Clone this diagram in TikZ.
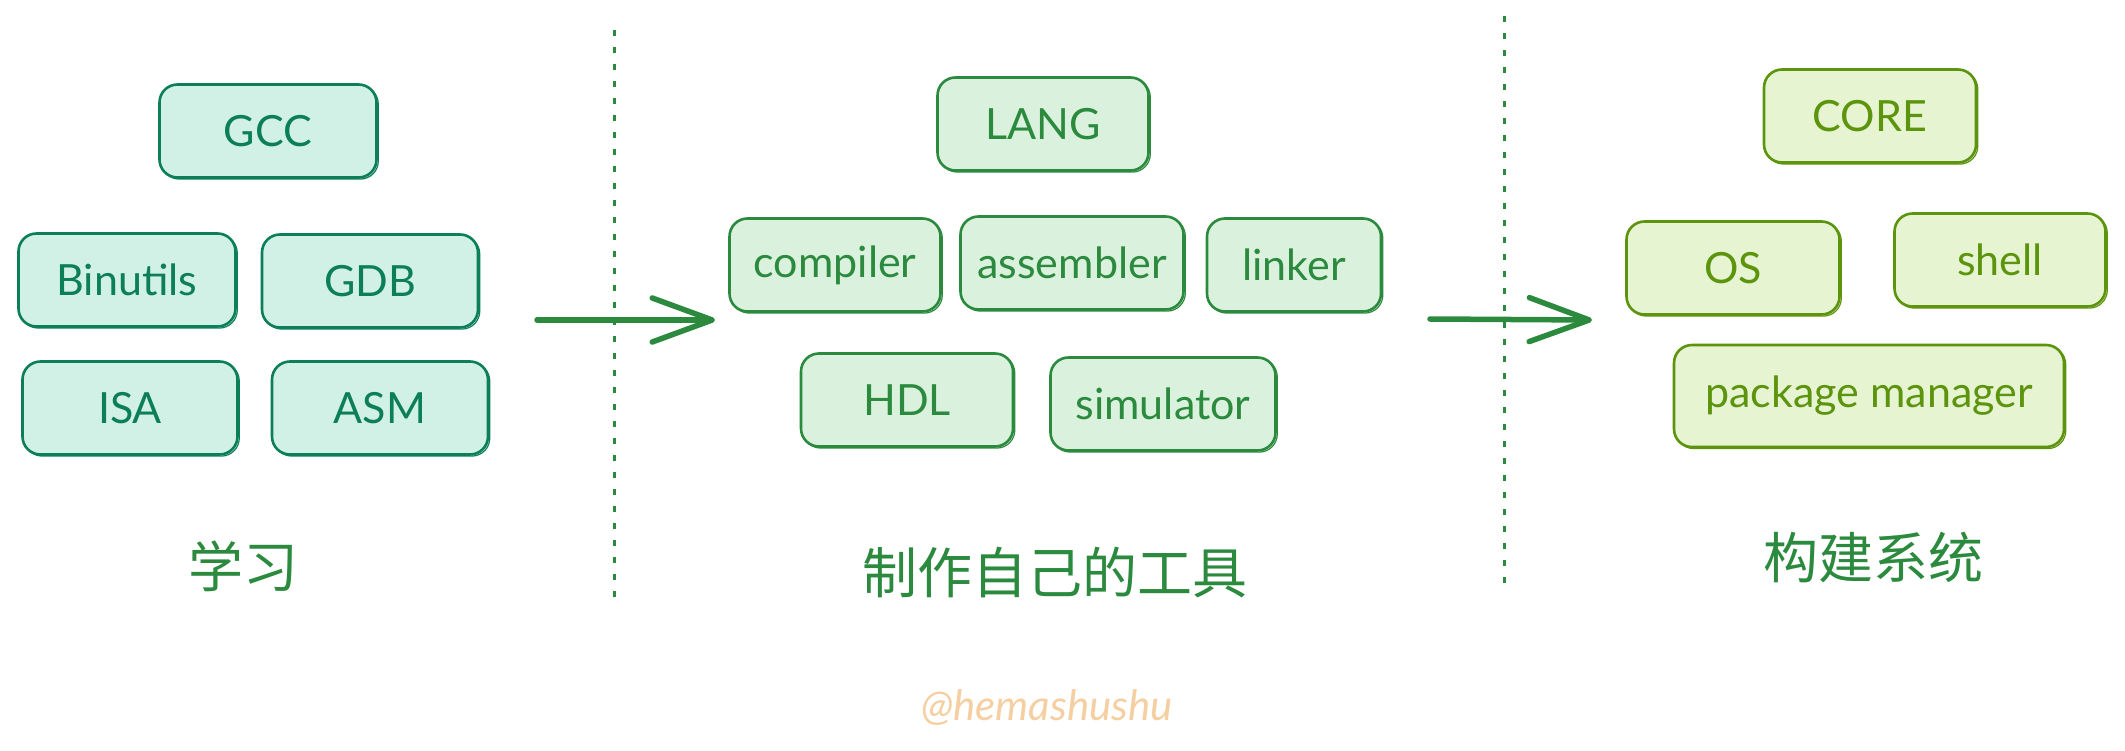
\documentclass[tikz,border=0pt]{standalone}
\usepackage{fontspec}
\setmainfont{Lato}
\newfontfamily\cjk{Noto Sans CJK SC}
\usetikzlibrary{arrows.meta}
\definecolor{tealS}{HTML}{0C7F58}
\definecolor{tealF}{HTML}{D2F1E6}
\definecolor{grnS}{HTML}{2B8A3E}
\definecolor{grnF}{HTML}{DAF2DD}
\definecolor{limS}{HTML}{5C940D}
\definecolor{limF}{HTML}{E6F4D2}
\definecolor{peach}{HTML}{F5CFA2}
\tikzset{
  box/.style={rounded corners=18pt, line width=2.6pt, minimum height=93pt,
    font=\fontsize{43}{48}\selectfont, inner sep=0pt,
    preaction={draw, line width=1.2pt, transform canvas={shift={(1.8pt,-1.6pt)}}}},
  tbox/.style={box, draw=tealS, fill=tealF, text=tealS},
  gbox/.style={box, draw=grnS, fill=grnF, text=grnS},
  lbox/.style={box, draw=limS, fill=limF, text=limS},
  sect/.style={font=\cjk\fontsize{55}{60}\selectfont, text=grnS},
  sep/.style={draw=grnS, line width=3pt, dash pattern=on 6pt off 11pt},
  flow/.style={draw=grnS, line width=5.5pt, line cap=round,
    -{Straight Barb[length=60pt, width=44pt, line width=5.5pt, round]}},
}
\begin{document}
\begin{tikzpicture}[x=1pt,y=-1pt]
\useasboundingbox (0,0) rectangle (2125,751);
% left column
\node[tbox, minimum width=217pt] (gcc) at (268,131) {GCC};
\node[tbox, minimum width=217pt] (binutils) at (127,280) {Binutils};
\node[tbox, minimum width=216pt] (gdb) at (370,281) {GDB};
\node[tbox, minimum width=215pt] (isa) at (130,408) {ISA};
\node[tbox, minimum width=216pt] (asm) at (380,408) {ASM};
% middle column
\node[gbox, minimum width=211pt] (lang) at (1043,124) {LANG};
\node[gbox, minimum width=211pt] (compiler) at (835,265) {compiler};
\node[gbox, minimum width=223pt] (assembler) at (1072,263) {assembler};
\node[gbox, minimum width=174pt] (linker) at (1294,265) {linker};
\node[gbox, minimum width=212pt] (hdl) at (907,400) {HDL};
\node[gbox, minimum width=225pt] (simulator) at (1163,404) {simulator};
% right column
\node[lbox, minimum width=212pt] (core) at (1870,116) {CORE};
\node[lbox, minimum width=213pt] (os) at (1733,268) {OS};
\node[lbox, minimum width=211pt] (shell) at (2000,260) {shell};
\node[lbox, minimum width=390pt, minimum height=102pt] (pkg) at (1869,396) {package manager};
% section labels
\node[sect] (learn) at (243,566) {学习};
\node[sect] (tools) at (1055,573) {制作自己的工具};
\node[sect] (build) at (1873,558) {构建系统};
% separators
\coordinate (s1a) at (614,30);
\coordinate (s1b) at (614,598);
\coordinate (s2a) at (1504,16);
\coordinate (s2b) at (1504,585);
\draw[sep] (s1a) -- (s1b);
\draw[sep] (s2a) -- (s2b);
% flow arrows
\coordinate (a1s) at (537,320);
\coordinate (a1e) at (715,320);
\coordinate (a2s) at (1430,319);
\coordinate (a2e) at (1592,320);
\draw[flow] (a1s) -- (a1e);
\draw[flow] (a2s) -- (a2e);
% signature
\node[font=\fontsize{42}{46}\selectfont\itshape, text=peach] (sig) at (1047,708) {@hemashushu};
\end{tikzpicture}
\end{document}
